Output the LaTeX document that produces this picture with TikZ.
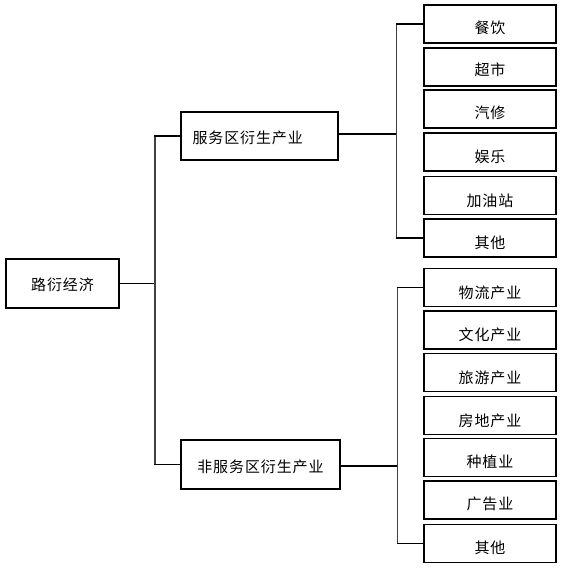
\documentclass[tikz,border=0pt]{standalone}
\usepackage{fontspec}
\setmainfont{Noto Sans CJK SC}[LetterSpace=6]
\newcommand{\lowr}[2]{\raisebox{-#1}[\height][\depth]{#2}}
\begin{document}
\begin{tikzpicture}[x=1pt,y=-1pt,
  box/.style={draw=black,line width=1.6pt,fill=white,inner sep=0pt,
    font=\fontsize{15}{18}\selectfont},
  leaf/.style={box,minimum width=132pt,minimum height=38pt},
  conn/.style={draw=black,line width=1.5pt},
  trunk/.style={draw=black!75,line width=1.4pt}]
\useasboundingbox[fill=white] (0,0) rectangle (564,571);
% root and middle level
\node[box,minimum width=113pt,minimum height=49pt] (root) at (62.5,283.5) {\lowr{1pt}{路衍经济}};
\node[box,minimum width=157pt,minimum height=48pt] (mid1) at (259.5,136) {\lowr{2pt}{\makebox[134pt][l]{服务区衍生产业}}};
\node[box,minimum width=159pt,minimum height=49pt] (mid2) at (260.5,464.5) {\lowr{2pt}{非服务区衍生产业}};
% upper leaves
\node[leaf] (a1) at (490,24)    {\lowr{4pt}{餐饮}};
\node[leaf] (a2) at (490,67)    {\lowr{3pt}{超市}};
\node[leaf] (a3) at (490,109)   {\lowr{4pt}{汽修}};
\node[leaf] (a4) at (490,152)   {\lowr{5pt}{娱乐}};
\node[leaf] (a5) at (490,195.5) {\lowr{5pt}{加油站}};
\node[leaf] (a6) at (490,238)   {\lowr{5pt}{其他}};
% lower leaves
\node[leaf] (b1) at (490,287.5) {\lowr{5pt}{物流产业}};
\node[leaf] (b2) at (490,330)   {\lowr{5pt}{文化产业}};
\node[leaf] (b3) at (490,372.5) {\lowr{5pt}{旅游产业}};
\node[leaf] (b4) at (490,415.5) {\lowr{5pt}{房地产业}};
\node[leaf] (b5) at (490,457.5) {\lowr{4pt}{种植业}};
\node[leaf] (b6) at (490,500)   {\lowr{4pt}{广告业}};
\node[leaf] (b7) at (490,543.5) {\lowr{4pt}{其他}};
% junction coordinates
\coordinate (t1) at (155,283.5);
\coordinate (t2) at (396.5,134);
\coordinate (t3) at (397.5,466);
% level 1 connectors
\draw[conn] (root.east) -- (t1);
\draw[trunk] (mid1.west) -| (t1) |- (mid2.west);
\draw[conn] (mid1.west) -- ++(-26,0);
\draw[conn] (mid2.west) -- ++(-26,0);
% upper group
\draw[conn] (mid1.east |- t2) -- (t2);
\draw[trunk] (a1.west) -| (t2) |- (a6.west);
\draw[conn] (a1.west) -- ++(-27,0);
\draw[conn] (a6.west) -- ++(-27,0);
% lower group
\draw[conn] (mid2.east |- t3) -- (t3);
\draw[trunk] (b1.west) -| (t3) |- (b7.west);
\draw[conn] (b1.west) -- ++(-26,0);
\draw[conn] (b7.west) -- ++(-26,0);
\end{tikzpicture}
\end{document}
